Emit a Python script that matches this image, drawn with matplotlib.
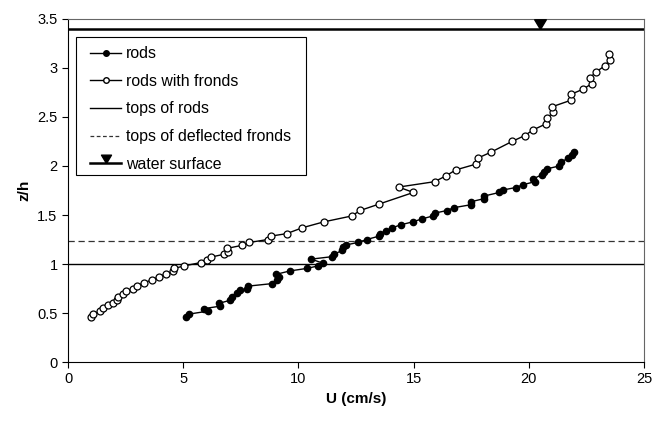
import matplotlib
matplotlib.use("Agg")
import matplotlib.pyplot as plt
from matplotlib.ticker import FormatStrFormatter, MultipleLocator
from matplotlib.lines import Line2D
from matplotlib.patches import Rectangle

plt.rcParams['font.family'] = ['Liberation Sans', 'DejaVu Sans']

# rods (filled)
rods_u = [5.12, 5.27, 6.09, 5.9, 6.6, 6.57, 7.03, 7.1, 7.32, 7.47, 7.78, 7.83,
          8.85, 9.06, 9.14, 9.03, 9.64, 10.36, 10.84, 11.05, 10.55, 11.46, 11.56,
          11.9, 11.95, 12.08, 12.58, 12.96, 13.51, 13.55, 13.8, 14.08, 14.44,
          14.96, 15.36, 15.83, 15.93, 16.43, 16.75, 17.49, 17.48, 18.06, 18.07,
          18.72, 18.87, 19.43, 19.76, 20.27, 20.2, 20.56, 20.67, 20.77, 21.32,
          21.38, 21.72, 21.86, 21.96]
rods_z = [0.46, 0.49, 0.52, 0.545, 0.57, 0.60, 0.63, 0.665, 0.70, 0.73, 0.75, 0.775,
          0.80, 0.84, 0.865, 0.895, 0.93, 0.955, 0.98, 1.01, 1.05, 1.075, 1.10,
          1.14, 1.17, 1.195, 1.22, 1.25, 1.285, 1.31, 1.34, 1.37, 1.40,
          1.43, 1.46, 1.49, 1.52, 1.545, 1.575, 1.605, 1.635, 1.667, 1.694,
          1.73, 1.755, 1.78, 1.81, 1.84, 1.87, 1.91, 1.94, 1.97, 2.0,
          2.04, 2.08, 2.11, 2.14]

# rods with fronds (open)
fronds_u = [1.0, 1.07, 1.39, 1.5, 1.72, 1.94, 2.14, 2.19, 2.37, 2.53, 2.8, 3.0,
            3.31, 3.66, 3.96, 4.25, 4.54, 4.61, 5.02, 5.76, 6.02, 6.19, 6.78,
            6.96, 6.91, 7.54, 7.87, 8.67, 8.81, 9.49, 10.17, 11.1, 12.31, 12.69,
            13.48, 14.99, 14.35, 15.91, 16.41, 16.83, 17.72, 17.78, 18.35, 19.27,
            19.82, 20.2, 20.75, 20.8, 21.07, 21.02, 21.82, 21.82, 22.37, 22.73,
            22.66, 22.92, 23.29, 23.52, 23.49]
fronds_z = [0.456, 0.49, 0.52, 0.55, 0.58, 0.605, 0.63, 0.66, 0.69, 0.72, 0.75, 0.78,
            0.81, 0.84, 0.87, 0.90, 0.925, 0.955, 0.98, 1.015, 1.045, 1.07, 1.10,
            1.125, 1.16, 1.19, 1.22, 1.25, 1.285, 1.31, 1.37, 1.43, 1.49, 1.547,
            1.61, 1.73, 1.785, 1.84, 1.90, 1.96, 2.02, 2.08, 2.14, 2.25,
            2.31, 2.37, 2.43, 2.49, 2.55, 2.605, 2.67, 2.73, 2.785, 2.84,
            2.90, 2.96, 3.02, 3.08, 3.14]

rod_top = 1.0
frond_top = 1.23
water_z = 3.4
water_u = 20.5

fig = plt.figure(figsize=(6.67, 4.21), dpi=100)
ax = fig.add_axes([0.102, 0.14, 0.8635, 0.815])

ax.axhline(rod_top, color='black', lw=1.0, zorder=1)
ax.axhline(frond_top, color='#333333', lw=0.9, ls=(0, (5, 3)), zorder=1)
ax.plot(rods_u, rods_z, '-o', color='black', lw=1.0, ms=4.5,
        mfc='black', mec='black', zorder=3)
ax.plot(fronds_u, fronds_z, '-o', color='black', lw=1.0, ms=5,
        mfc='white', mec='black', mew=0.9, zorder=3)

# downward triangle with its tip on the water line
tri = [(0, 0), (-0.6, 1.0), (0.6, 1.0), (0, 0)]
ax.axhline(water_z, color='black', lw=1.8, zorder=2)
ax.plot([water_u], [water_z], ls='none', marker=tri, ms=14, color='black', zorder=4)

handles = [
    Line2D([], [], color='black', lw=1.0, marker='o', ms=4, mfc='black'),
    Line2D([], [], color='black', lw=1.0, marker='o', ms=4, mfc='white'),
    Line2D([], [], color='black', lw=1.0),
    Line2D([], [], color='#333333', lw=0.9, ls=(0, (3, 2))),
    Line2D([], [], color='black', lw=1.8, marker=tri, ms=12),
]
labels = ['rods', 'rods with fronds', 'tops of rods', 'tops of deflected fronds',
          'water surface']
# legend box drawn separately so the padding can match the original
ax.add_patch(Rectangle((0.0134, 0.545), 0.399, 0.4025, transform=ax.transAxes,
                       facecolor='white', edgecolor='black', lw=0.8, zorder=5))
leg = ax.legend(handles, labels, loc='upper left', bbox_to_anchor=(0.039, 0.921),
                fontsize=11.4, frameon=False,
                handlelength=1.95, handletextpad=0.3, labelspacing=0.8,
                borderpad=0, borderaxespad=0)
leg.set_zorder(6)

ax.set_xlim(0, 25)
ax.set_ylim(0, 3.5)
ax.xaxis.set_major_locator(MultipleLocator(5))
ax.yaxis.set_major_locator(MultipleLocator(0.5))
ax.yaxis.set_major_formatter(FormatStrFormatter('%g'))
ax.tick_params(direction='out', length=4, width=0.8, labelsize=10.5)
for s in ax.spines.values():
    s.set_linewidth(0.8)
ax.spines['right'].set_color('#666666')
ax.spines['top'].set_color('#666666')

ax.set_xlabel('U (cm/s)', fontsize=11, fontweight='bold')
ax.set_ylabel('z/h', fontsize=11, fontweight='bold')

plt.savefig('out.png', dpi=100)
